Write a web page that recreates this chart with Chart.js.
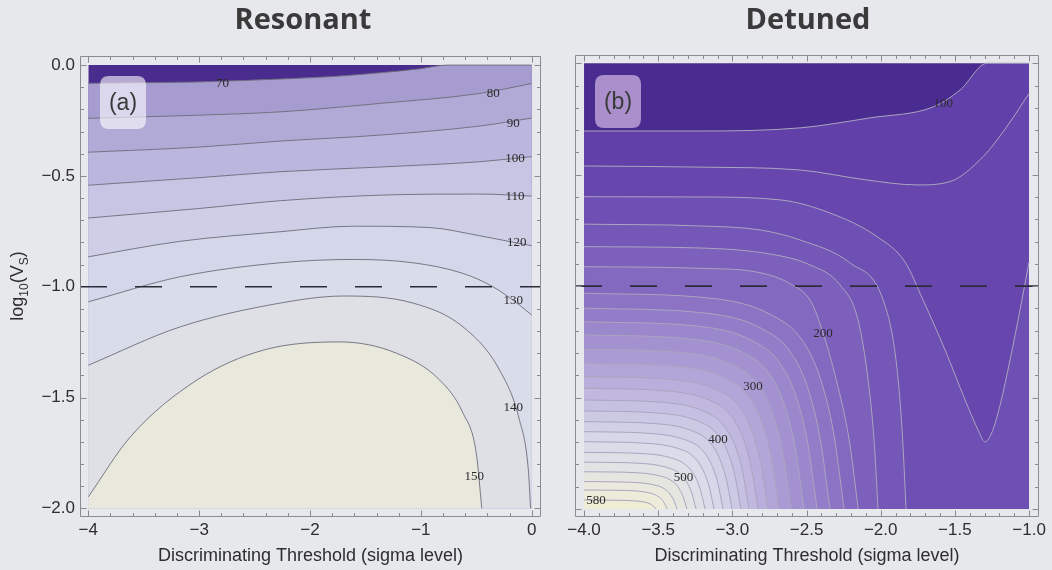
<!DOCTYPE html>
<html><head><meta charset="utf-8">
<script src="https://cdn.jsdelivr.net/npm/chart.js@4.4.0/dist/chart.umd.min.js"></script>
<style>
html,body{margin:0;padding:0;background:#e7e8ec;}
#wrap{position:relative;width:1052px;height:570px;overflow:hidden;background:#e7e8ec;}
#ca{position:absolute;left:0;top:0;}
#cb{position:absolute;left:560px;top:0;}
</style></head><body>
<div id="wrap"><canvas id="ca" width="560" height="570"></canvas><canvas id="cb" width="492" height="570"></canvas></div>
<script>
// ---------------- data ----------------
const titleA = 'Resonant', titleB = 'Detuned';
const tagA = '(a)', tagB = '(b)';
const xTitle = 'Discriminating Threshold (sigma level)';
const xTicksA = [-4, -3, -2, -1, 0];
const xTicksB = [-4, -3.5, -3, -2.5, -2, -1.5, -1];
const yTicks = [0, -0.5, -1, -1.5, -2];
const thresholdLine = -1;
const yBottom = -2;

// Panel (a): resonant
const domainA = [[-4, 0], [0, 0]];
const levelsA = [70, 80, 90, 100, 110, 120, 130, 140, 150];
const a70  = [[-4,-0.082],[-3,-0.076],[-2.27,-0.063],[-1.8,-0.052],[-1.37,-0.035],[-1.0,-0.016],[-0.76,0],[0,0]];
const a80  = [[-4,-0.240],[-3.0,-0.226],[-2.27,-0.211],[-1.37,-0.173],[-0.47,-0.128],[0,-0.083]];
const a90  = [[-4,-0.393],[-3.0,-0.370],[-2.27,-0.343],[-1.37,-0.316],[-0.47,-0.275],[0,-0.239]];
const a100 = [[-4,-0.542],[-3.0,-0.508],[-2.27,-0.481],[-1.37,-0.460],[-0.47,-0.436],[0,-0.413]];
const a110 = [[-4,-0.690],[-3.0,-0.647],[-2.27,-0.612],[-1.37,-0.587],[-0.47,-0.582],[0,-0.591]];
const a120 = [[-4,-0.865],[-3.17,-0.795],[-2.27,-0.752],[-1.61,-0.727],[-0.92,-0.733],[-0.47,-0.770],[-0.19,-0.797],[0,-0.815]];
const a130 = [[-4,-1.068],[-3.17,-0.955],[-2.27,-0.892],[-1.61,-0.877],[-1.07,-0.892],[-0.62,-0.940],[-0.35,-1.0],[-0.11,-1.083],[0,-1.128]];
const a140 = [[-4,-1.354],[-3.17,-1.181],[-2.27,-1.074],[-1.7,-1.042],[-1.07,-1.074],[-0.62,-1.181],[-0.29,-1.376],[-0.11,-1.602],[-0.03,-1.828],[-0.01,-2]];
const a150 = [[-4,-1.948],[-3.62,-1.677],[-3.02,-1.421],[-2.42,-1.286],[-1.73,-1.249],[-1.22,-1.300],[-0.83,-1.421],[-0.62,-1.570],[-0.5,-1.751],[-0.45,-2]];
const labelAtA = [[-2.79,-0.081],[-0.346,-0.128],[-0.166,-0.26],[-0.151,-0.421],[-0.151,-0.591],[-0.135,-0.797],[-0.166,-1.06],[-0.166,-1.541],[-0.518,-1.855]];

// Panel (b): detuned
const domainB = [[-4, 0], [-1, 0]];
const levelsB = [100,120,140,160,180,200,220,240,260,280,300,320,340,360,380,400,420,440,460,480,500,520,540,560,580];
const b100 = [[-4,-0.304],[-3.218,-0.304],[-2.544,-0.290],[-2.072,-0.245],[-1.647,-0.196],[-1.465,-0.120],[-1.283,0],[-1,0]];
const b120 = [[-4,-0.461],[-3.218,-0.466],[-2.544,-0.479],[-2.092,-0.524],[-1.755,-0.546],[-1.533,-0.531],[-1.310,-0.419],[-1.142,-0.277],[-1.0,-0.135]];
const b140 = [[-4,-0.599],[-3.218,-0.600],[-2.679,-0.613],[-2.342,-0.672],[-2.025,-0.778],[-1.836,-0.892],[-1.715,-1.062],[-1.566,-1.287],[-1.431,-1.511],[-1.344,-1.645],[-1.297,-1.699],[-1.249,-1.654],[-1.195,-1.533],[-1.128,-1.331],[-1.061,-1.107],[-1.0,-0.892]];
const b160 = [[-4,-0.722],[-3.218,-0.730],[-2.813,-0.748],[-2.544,-0.793],[-2.207,-0.896],[-1.984,-1.062],[-1.897,-1.331],[-1.856,-1.645],[-1.829,-2]];
const b180 = [[-4,-0.823],[-3.218,-0.829],[-2.746,-0.856],[-2.476,-0.905],[-2.274,-0.995],[-2.153,-1.152],[-2.085,-1.421],[-2.045,-1.690],[-2.018,-2]];
const b200 = [[-4,-0.913],[-3.218,-0.920],[-2.813,-0.940],[-2.61,-0.990],[-2.47,-1.070],[-2.389,-1.21],[-2.3,-1.42],[-2.21,-1.70],[-2.152,-2]];
const b220 = [[-4,-1.032],[-3.124,-1.056],[-2.738,-1.129],[-2.527,-1.245],[-2.405,-1.419],[-2.317,-1.661],[-2.247,-2]];
const b240 = [[-4,-1.099],[-3.171,-1.122],[-2.806,-1.189],[-2.607,-1.297],[-2.491,-1.459],[-2.408,-1.685],[-2.342,-2]];
const b260 = [[-4,-1.160],[-3.215,-1.181],[-2.869,-1.244],[-2.680,-1.345],[-2.570,-1.496],[-2.492,-1.706],[-2.429,-2]];
const b280 = [[-4,-1.219],[-3.259,-1.239],[-2.932,-1.297],[-2.754,-1.391],[-2.650,-1.531],[-2.576,-1.727],[-2.517,-2]];
const b300 = [[-4,-1.283],[-3.302,-1.301],[-2.995,-1.355],[-2.827,-1.441],[-2.730,-1.570],[-2.660,-1.749],[-2.604,-2]];
const b320 = [[-4,-1.346],[-3.343,-1.362],[-3.053,-1.411],[-2.895,-1.490],[-2.803,-1.608],[-2.738,-1.771],[-2.685,-2]];
const b340 = [[-4,-1.406],[-3.380,-1.421],[-3.107,-1.465],[-2.958,-1.537],[-2.872,-1.644],[-2.810,-1.792],[-2.760,-2]];
const b360 = [[-4,-1.458],[-3.414,-1.472],[-3.155,-1.512],[-3.015,-1.577],[-2.933,-1.675],[-2.874,-1.810],[-2.827,-2]];
const b380 = [[-4,-1.511],[-3.444,-1.523],[-3.199,-1.560],[-3.066,-1.619],[-2.988,-1.707],[-2.932,-1.829],[-2.888,-2]];
const b400 = [[-4,-1.560],[-3.471,-1.571],[-3.238,-1.604],[-3.111,-1.657],[-3.037,-1.736],[-2.984,-1.846],[-2.942,-2]];
const b420 = [[-4,-1.608],[-3.501,-1.618],[-3.281,-1.647],[-3.162,-1.694],[-3.092,-1.765],[-3.042,-1.863],[-3.002,-2]];
const b440 = [[-4,-1.653],[-3.532,-1.662],[-3.325,-1.688],[-3.213,-1.729],[-3.147,-1.792],[-3.100,-1.879],[-3.063,-2]];
const b460 = [[-4,-1.698],[-3.562,-1.706],[-3.369,-1.728],[-3.264,-1.764],[-3.203,-1.819],[-3.159,-1.894],[-3.124,-2]];
const b480 = [[-4,-1.746],[-3.592,-1.752],[-3.412,-1.771],[-3.315,-1.802],[-3.257,-1.848],[-3.217,-1.911],[-3.184,-2]];
const b500 = [[-4,-1.790],[-3.623,-1.795],[-3.456,-1.811],[-3.366,-1.836],[-3.313,-1.874],[-3.275,-1.926],[-3.245,-2]];
const b520 = [[-4,-1.833],[-3.653,-1.837],[-3.500,-1.850],[-3.417,-1.870],[-3.368,-1.900],[-3.334,-1.942],[-3.306,-2]];
const b540 = [[-4,-1.877],[-3.687,-1.880],[-3.549,-1.889],[-3.473,-1.904],[-3.429,-1.926],[-3.398,-1.957],[-3.373,-2]];
const b560 = [[-4,-1.915],[-3.720,-1.917],[-3.597,-1.923],[-3.530,-1.934],[-3.490,-1.949],[-3.462,-1.970],[-3.440,-2]];
const b580 = [[-4,-1.960],[-3.757,-1.961],[-3.651,-1.964],[-3.593,-1.969],[-3.559,-1.976],[-3.534,-1.986],[-3.515,-2]];
const labelValuesB = [100, 200, 300, 400, 500, 580];
const labelAtB = [[-1.578,-0.18],[-2.389,-1.21],[-2.861,-1.448],[-3.097,-1.686],[-3.329,-1.856],[-3.919,-1.96]];

// ---------------- styles ----------------
const bandColorsA = ['#4a2c8e','#a69ccf','#b1aad6','#bbb6dd','#c6c5e3','#cecfe7','#d4d7e9','#d9dce9','#dee0e6','#e8e8dc'];
const bandColorsB = ['#4a2b8f','#6141a9','#6747ae','#6e4fb3','#7557b7','#7c60bb','#8469c0','#8c73c4','#937dc8','#9b87cc','#a391d0','#ab9bd4','#b2a5d8','#b9afdc','#c0b8df','#c6c1e2','#ccc9e5','#d1d0e7','#d6d7e9','#dadce9','#dee0e8','#e2e3e5','#e6e6e1','#eae9dd','#edebd9','#efedd6'];
const xRangeA = [-4.075, 0.084], yRangeA = [-2.039, 0.041];
const xRangeB = [-4.061, -0.933], yRangeB = [-2.036, 0.037];
const textColor = '#2e2e2e';
const sansFont = "'Liberation Sans', Arial, sans-serif";

const contoursA = [a70,a80,a90,a100,a110,a120,a130,a140,a150];
const contoursB = [b100,b120,b140,b160,b180,b200,b220,b240,b260,b280,b300,b320,b340,b360,b380,b400,b420,b440,b460,b480,b500,b520,b540,b560,b580];

const minus = s => s.replace('-', '\u2212');

function buildDatasets(domain, contours, bands, lineColor, lineWidth, xRange) {
  const pts = a => a.map(p => ({x: p[0], y: p[1]}));
  const ds = [{data: pts(domain), fill: {value: yBottom}, backgroundColor: bands[0], borderWidth: 0, borderColor: 'rgba(0,0,0,0)', order: 1000}];
  contours.forEach((c, i) => ds.push({data: pts(c), fill: {value: yBottom}, backgroundColor: bands[i + 1], borderColor: lineColor, borderWidth: lineWidth, order: 900 - i}));
  ds.push({data: [{x: xRange[0], y: thresholdLine}, {x: xRange[1], y: thresholdLine}], fill: false, borderColor: '#2b2b3a', borderWidth: 1.6, borderDash: [27, 28], order: -5});
  return ds;
}

// ---------------- plugins ----------------
const contourLabels = {
  id: 'contourLabels',
  afterDatasetsDraw(chart, args, o) {
    const {ctx, scales: {x, y}} = chart;
    ctx.save();
    ctx.font = "13px 'Liberation Serif', 'DejaVu Serif', serif";
    ctx.textAlign = 'center'; ctx.textBaseline = 'middle';
    ctx.fillStyle = '#2a2a2a';
    o.values.forEach((v, i) => {
      ctx.fillText(String(v), x.getPixelForValue(o.at[i][0]), y.getPixelForValue(o.at[i][1]) + 0.5);
    });
    ctx.restore();
  }
};

const panelTag = {
  id: 'panelTag',
  afterDatasetsDraw(chart, args, o) {
    const {ctx, chartArea: a} = chart;
    const x0 = a.left + o.dx, y0 = a.top + o.dy, w = o.w, h = o.h, r = 9;
    ctx.save();
    ctx.beginPath();
    ctx.moveTo(x0 + r, y0); ctx.lineTo(x0 + w - r, y0); ctx.quadraticCurveTo(x0 + w, y0, x0 + w, y0 + r);
    ctx.lineTo(x0 + w, y0 + h - r); ctx.quadraticCurveTo(x0 + w, y0 + h, x0 + w - r, y0 + h);
    ctx.lineTo(x0 + r, y0 + h); ctx.quadraticCurveTo(x0, y0 + h, x0, y0 + h - r);
    ctx.lineTo(x0, y0 + r); ctx.quadraticCurveTo(x0, y0, x0 + r, y0); ctx.closePath();
    ctx.fillStyle = o.fill; ctx.fill();
    ctx.fillStyle = '#3a3a3a';
    ctx.font = "23px " + sansFont;
    ctx.textAlign = 'center'; ctx.textBaseline = 'middle';
    ctx.fillText(o.text, x0 + w / 2, y0 + h / 2 + 1);
    ctx.restore();
  }
};

const frameTicks = {
  id: 'frameTicks',
  afterDatasetsDraw(chart, args, o) {
    const {ctx, chartArea: a, scales: {x, y}} = chart;
    const L = Math.round(a.left) + 0.5, R = Math.round(a.right) - 0.5, T = Math.round(a.top) + 0.5, B = Math.round(a.bottom) - 0.5;
    ctx.save();
    ctx.strokeStyle = '#8a8a92'; ctx.lineWidth = 1;
    ctx.beginPath();
    ctx.rect(L, T, R - L, B - T);
    const isMajor = (list, v) => list.some(m => Math.abs(m - v) < 1e-6);
    for (let k = 0; ; k++) {
      const v = o.xFrom + k * o.xStep; if (v > o.xTo + 1e-9) break;
      const len = isMajor(o.xMajor, v) ? 6 : 3.5;
      const px = Math.round(x.getPixelForValue(v)) + 0.5;
      ctx.moveTo(px, B); ctx.lineTo(px, B - len);
      ctx.moveTo(px, T); ctx.lineTo(px, T + len);
    }
    for (let k = 0; ; k++) {
      const v = o.yFrom + k * o.yStep; if (v > o.yTo + 1e-9) break;
      const len = isMajor(yTicks, v) ? 6 : 3.5;
      const py = Math.round(y.getPixelForValue(v)) + 0.5;
      ctx.moveTo(L, py); ctx.lineTo(L + len, py);
      ctx.moveTo(R, py); ctx.lineTo(R - len, py);
    }
    ctx.stroke();
    ctx.restore();
  }
};

const panelTitle = {
  id: 'panelTitle',
  afterDraw(chart, args, o) {
    const {ctx} = chart;
    ctx.save();
    ctx.fillStyle = '#3a3a3a';
    ctx.font = "bold 29px 'Open Sans', sans-serif";
    ctx.textAlign = 'center'; ctx.textBaseline = 'middle';
    ctx.fillText(o.text, o.x, o.y);
    ctx.restore();
  }
};

const yTitlePlugin = {
  id: 'yTitle',
  afterDraw(chart, args, o) {
    if (!o.show) return;
    const {ctx} = chart;
    const parts = [['log', 18, 0], ['10', 12, 5], ['(V', 18, 0], ['S', 12, 5], [')', 18, 0]];
    ctx.save();
    ctx.translate(o.x, o.y);
    ctx.rotate(-Math.PI / 2);
    ctx.fillStyle = textColor;
    ctx.textBaseline = 'alphabetic';
    let total = 0;
    parts.forEach(p => { ctx.font = p[1] + 'px ' + sansFont; total += ctx.measureText(p[0]).width; });
    let cx = -total / 2;
    parts.forEach(p => { ctx.font = p[1] + 'px ' + sansFont; ctx.fillText(p[0], cx, 6 + p[2]); cx += ctx.measureText(p[0]).width; });
    ctx.restore();
  }
};

function makeChart(id, cfg) {
  return new Chart(document.getElementById(id), {
    type: 'line',
    data: {datasets: cfg.datasets},
    plugins: [contourLabels, panelTag, frameTicks, panelTitle, yTitlePlugin],
    options: {
      responsive: false, animation: false, events: [],
      layout: {padding: cfg.padding},
      elements: {point: {radius: 0, hoverRadius: 0}, line: {cubicInterpolationMode: 'monotone', borderJoinStyle: 'round'}},
      scales: {
        x: {
          type: 'linear', min: cfg.xRange[0], max: cfg.xRange[1],
          grid: {display: false, drawTicks: false}, border: {display: false},
          afterBuildTicks: s => { s.ticks = cfg.xTicks.map(v => ({value: v})); },
          afterFit: s => { s.height = 53; },
          ticks: {padding: 3, autoSkip: false, maxRotation: 0, color: textColor, font: {family: sansFont, size: 17}, callback: v => minus(cfg.xFmt(v))},
          title: {display: true, text: xTitle, color: textColor, font: {family: sansFont, size: 18}, padding: {top: 0, bottom: 3}}
        },
        y: {
          type: 'linear', min: cfg.yRange[0], max: cfg.yRange[1], display: cfg.yDisplay,
          grid: {display: false, drawTicks: false}, border: {display: false},
          afterBuildTicks: s => { s.ticks = yTicks.map(v => ({value: v})); },
          afterFit: s => { s.width = cfg.yWidth; },
          ticks: {padding: 5, autoSkip: false, color: textColor, font: {family: sansFont, size: 17}, callback: v => minus(v.toFixed(1))}
        }
      },
      plugins: {
        legend: {display: false}, tooltip: {enabled: false}, title: {display: false},
        contourLabels: {values: cfg.labelValues, at: cfg.labelAt},
        panelTag: {text: cfg.tag, dx: 20, dy: 20, w: 46, h: 53, fill: cfg.tagFill},
        frameTicks: cfg.ticksOpt,
        panelTitle: {text: cfg.title, x: cfg.titleX, y: 21},
        yTitle: cfg.yTitle
      }
    }
  });
}

makeChart('ca', {
  datasets: buildDatasets(domainA, contoursA, bandColorsA, '#6c6c7a', 0.9, xRangeA),
  padding: {left: 0, right: 19, top: 56, bottom: 0},
  xRange: xRangeA, yRange: yRangeA, xTicks: xTicksA, xFmt: v => String(v),
  yDisplay: true, yWidth: 80, title: titleA, titleX: 303,
  labelValues: levelsA, labelAt: labelAtA, tag: tagA, tagFill: 'rgba(255,255,255,0.6)',
  ticksOpt: {xFrom: -4, xTo: 0, xStep: 0.2, xMajor: xTicksA, yFrom: -2, yTo: 0, yStep: 0.1},
  yTitle: {show: true, x: 17, y: 286}
});

makeChart('cb', {
  datasets: buildDatasets(domainB, contoursB, bandColorsB, '#aba5bf', 1, xRangeB),
  padding: {left: 15, right: 13, top: 55, bottom: 0},
  xRange: xRangeB, yRange: yRangeB, xTicks: xTicksB, xFmt: v => v.toFixed(1),
  yDisplay: false, yWidth: 0, title: titleB, titleX: 248,
  labelValues: labelValuesB, labelAt: labelAtB, tag: tagB, tagFill: 'rgba(250,225,255,0.55)',
  ticksOpt: {xFrom: -4, xTo: -1, xStep: 0.1, xMajor: xTicksB, yFrom: -2, yTo: 0, yStep: 0.1},
  yTitle: {show: false}
});
</script>
</body></html>
